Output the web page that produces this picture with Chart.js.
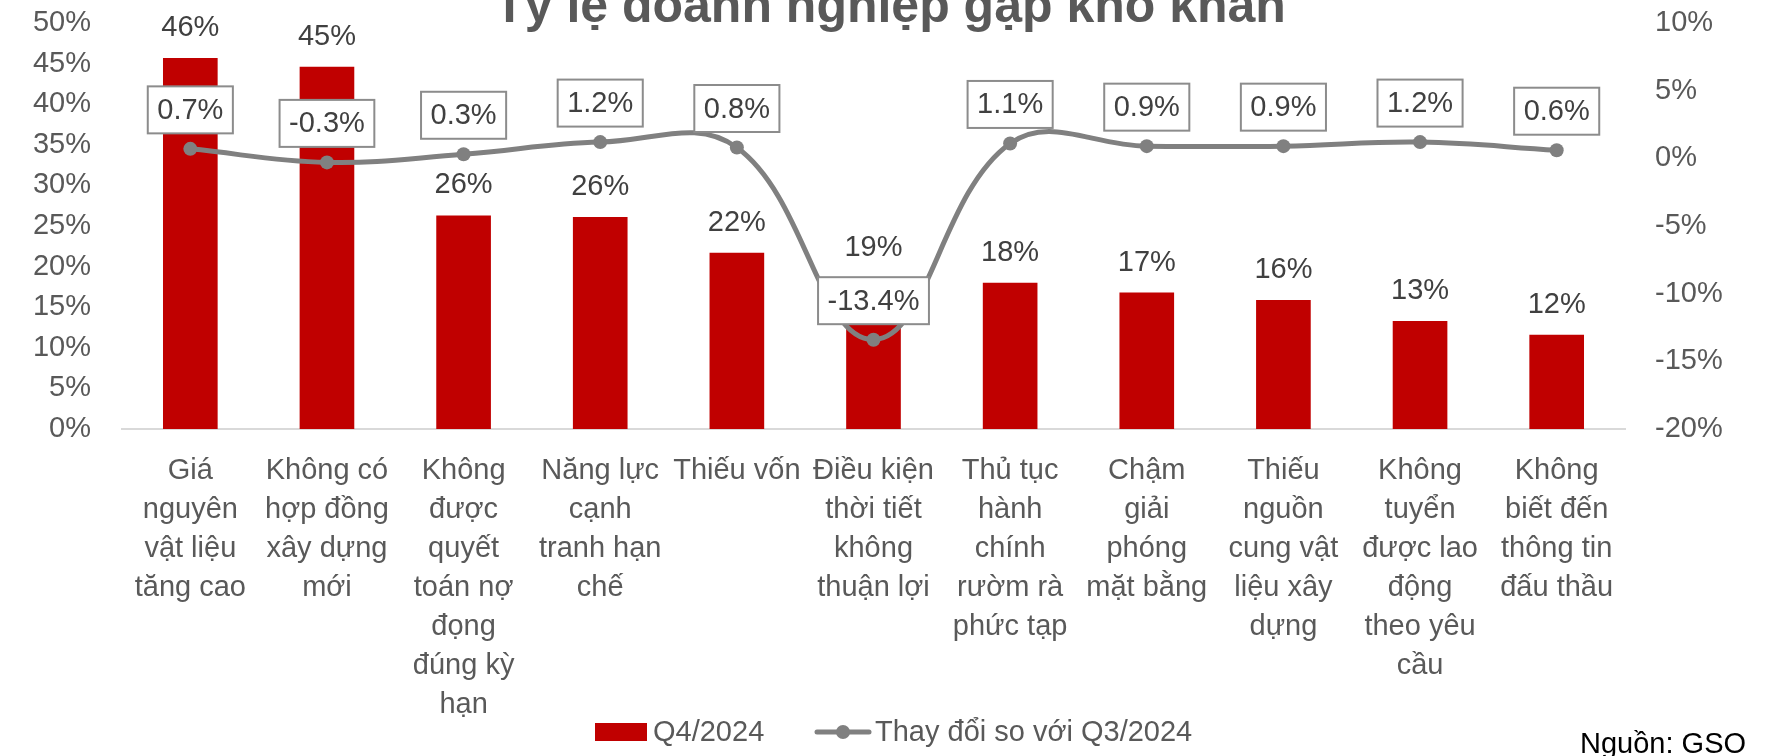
<!DOCTYPE html>
<html>
<head>
<meta charset="utf-8">
<script src="https://cdn.jsdelivr.net/npm/chart.js@4.4.1/dist/chart.umd.min.js"></script>
<style>
  html, body { margin: 0; padding: 0; background: #fff; overflow: hidden; }
  canvas { display: block; }
</style>
</head>
<body>
<canvas id="khoKhanChart" width="1767" height="756"></canvas>
<script>
const chartTitle = "Tỷ lệ doanh nghiệp gặp khó khăn";
const sourceNote = "Nguồn: GSO";

const categories = [
  ["Giá", "nguyên", "vật liệu", "tăng cao"],
  ["Không có", "hợp đồng", "xây dựng", "mới"],
  ["Không", "được", "quyết", "toán nợ", "đọng", "đúng kỳ", "hạn"],
  ["Năng lực", "cạnh", "tranh hạn", "chế"],
  ["Thiếu vốn"],
  ["Điều kiện", "thời tiết", "không", "thuận lợi"],
  ["Thủ tục", "hành", "chính", "rườm rà", "phức tạp"],
  ["Chậm", "giải", "phóng", "mặt bằng"],
  ["Thiếu", "nguồn", "cung vật", "liệu xây", "dựng"],
  ["Không", "tuyển", "được lao", "động", "theo yêu", "cầu"],
  ["Không", "biết đến", "thông tin", "đấu thầu"]
];

// % doanh nghiệp gặp khó khăn, Q4/2024
const shareQ4 = [45.7, 44.6, 26.3, 26.1, 21.7, 18.6, 18.0, 16.8, 15.9, 13.3, 11.6];
// thay đổi (điểm %) so với Q3/2024
const changeVsQ3 = [0.7, -0.3, 0.3, 1.2, 0.8, -13.4, 1.1, 0.9, 0.9, 1.2, 0.6];

const seriesNames = ["Q4/2024", "Thay đổi so với Q3/2024"];

const RED = "#C00000";
const GREY = "#808080";
const TEXT = "#595959";
const LABEL = "#404040";
const FONT = "'Liberation Sans', Arial, sans-serif";

Chart.defaults.font.family = FONT;
Chart.defaults.color = TEXT;

// value labels + title + legend + source, all drawn on the canvas
const decorations = {
  id: "decorations",
  afterDatasetsDraw(chart) {
    const ctx = chart.ctx;
    ctx.save();
    ctx.font = "29px " + FONT;
    ctx.textAlign = "center";
    ctx.textBaseline = "middle";

    // bar labels
    chart.getDatasetMeta(0).data.forEach((bar, i) => {
      ctx.fillStyle = LABEL;
      ctx.fillText(Math.round(shareQ4[i]) + "%", bar.x, bar.y - 30);
    });

    // line labels in boxes
    chart.getDatasetMeta(1).data.forEach((pt, i) => {
      const txt = changeVsQ3[i].toFixed(1) + "%";
      const w = ctx.measureText(txt).width + 19;
      const h = 47;
      const cy = pt.y - 39;
      ctx.fillStyle = "#fff";
      ctx.fillRect(pt.x - w / 2, cy - h / 2, w, h);
      ctx.strokeStyle = "#8c8c8c";
      ctx.lineWidth = 2;
      ctx.strokeRect(pt.x - w / 2, cy - h / 2, w, h);
      ctx.fillStyle = LABEL;
      ctx.fillText(txt, pt.x, cy + 1);
    });
    ctx.restore();
  },
  afterDraw(chart) {
    const ctx = chart.ctx;
    ctx.save();

    // title, cut at the top edge like the original
    ctx.font = "bold 50px " + FONT;
    ctx.fillStyle = TEXT;
    ctx.textAlign = "center";
    ctx.textBaseline = "alphabetic";
    ctx.fillText(chartTitle, 890, 22);

    // legend
    const ly = 732;
    ctx.fillStyle = RED;
    ctx.fillRect(595, ly - 9, 52, 18);
    ctx.font = "29px " + FONT;
    ctx.fillStyle = TEXT;
    ctx.textAlign = "left";
    ctx.textBaseline = "middle";
    ctx.fillText(seriesNames[0], 653, ly + 1);

    ctx.strokeStyle = GREY;
    ctx.lineWidth = 5;
    ctx.lineCap = "round";
    ctx.beginPath();
    ctx.moveTo(817, ly);
    ctx.lineTo(869, ly);
    ctx.stroke();
    ctx.fillStyle = GREY;
    ctx.beginPath();
    ctx.arc(843, ly, 7, 0, Math.PI * 2);
    ctx.fill();
    ctx.fillStyle = TEXT;
    ctx.fillText(seriesNames[1], 875, ly + 1);

    // source
    ctx.fillStyle = "#000";
    ctx.fillText(sourceNote, 1580, 745);
    ctx.restore();
  }
};

// keep the y axes from pushing the plot area down (tick padding is horizontal here)
function fixYAxis(width) {
  return function (scale) {
    scale.width = width;
    scale.paddingTop = 0;
    scale.paddingBottom = 0;
  };
}

new Chart(document.getElementById("khoKhanChart"), {
  data: {
    labels: categories,
    datasets: [
      {
        type: "bar",
        label: seriesNames[0],
        data: shareQ4,
        backgroundColor: RED,
        barPercentage: 0.4,
        categoryPercentage: 1.0,
        yAxisID: "y",
        order: 2
      },
      {
        type: "line",
        label: seriesNames[1],
        data: changeVsQ3,
        borderColor: GREY,
        backgroundColor: GREY,
        borderWidth: 5,
        tension: 0.4,
        pointRadius: 7,
        pointBorderWidth: 0,
        pointBackgroundColor: GREY,
        yAxisID: "y2",
        order: 1
      }
    ]
  },
  options: {
    responsive: false,
    animation: false,
    layout: { padding: { top: 23, left: 0, right: 0, bottom: 0 } },
    plugins: {
      legend: { display: false },
      title: { display: false },
      tooltip: { enabled: false }
    },
    scales: {
      x: {
        grid: { display: false, drawTicks: false },
        border: { display: true, color: "#d9d9d9", width: 2 },
        ticks: {
          color: TEXT,
          padding: 22,
          autoSkip: false,
          maxRotation: 0,
          font: { size: 29, lineHeight: 39 / 29 }
        },
        afterFit(scale) { scale.height = 327; }
      },
      y: {
        position: "left",
        min: 0,
        max: 50,
        grid: { display: false, drawTicks: false },
        border: { display: false },
        ticks: {
          stepSize: 5,
          padding: 31,
          color: TEXT,
          font: { size: 29 },
          callback: v => v + "%"
        },
        afterFit: fixYAxis(122)
      },
      y2: {
        position: "right",
        min: -20,
        max: 10,
        grid: { display: false, drawTicks: false },
        border: { display: false },
        ticks: {
          stepSize: 5,
          padding: 30,
          color: TEXT,
          font: { size: 29 },
          callback: v => v + "%"
        },
        afterFit: fixYAxis(142)
      }
    }
  },
  plugins: [decorations]
});
</script>
</body>
</html>
